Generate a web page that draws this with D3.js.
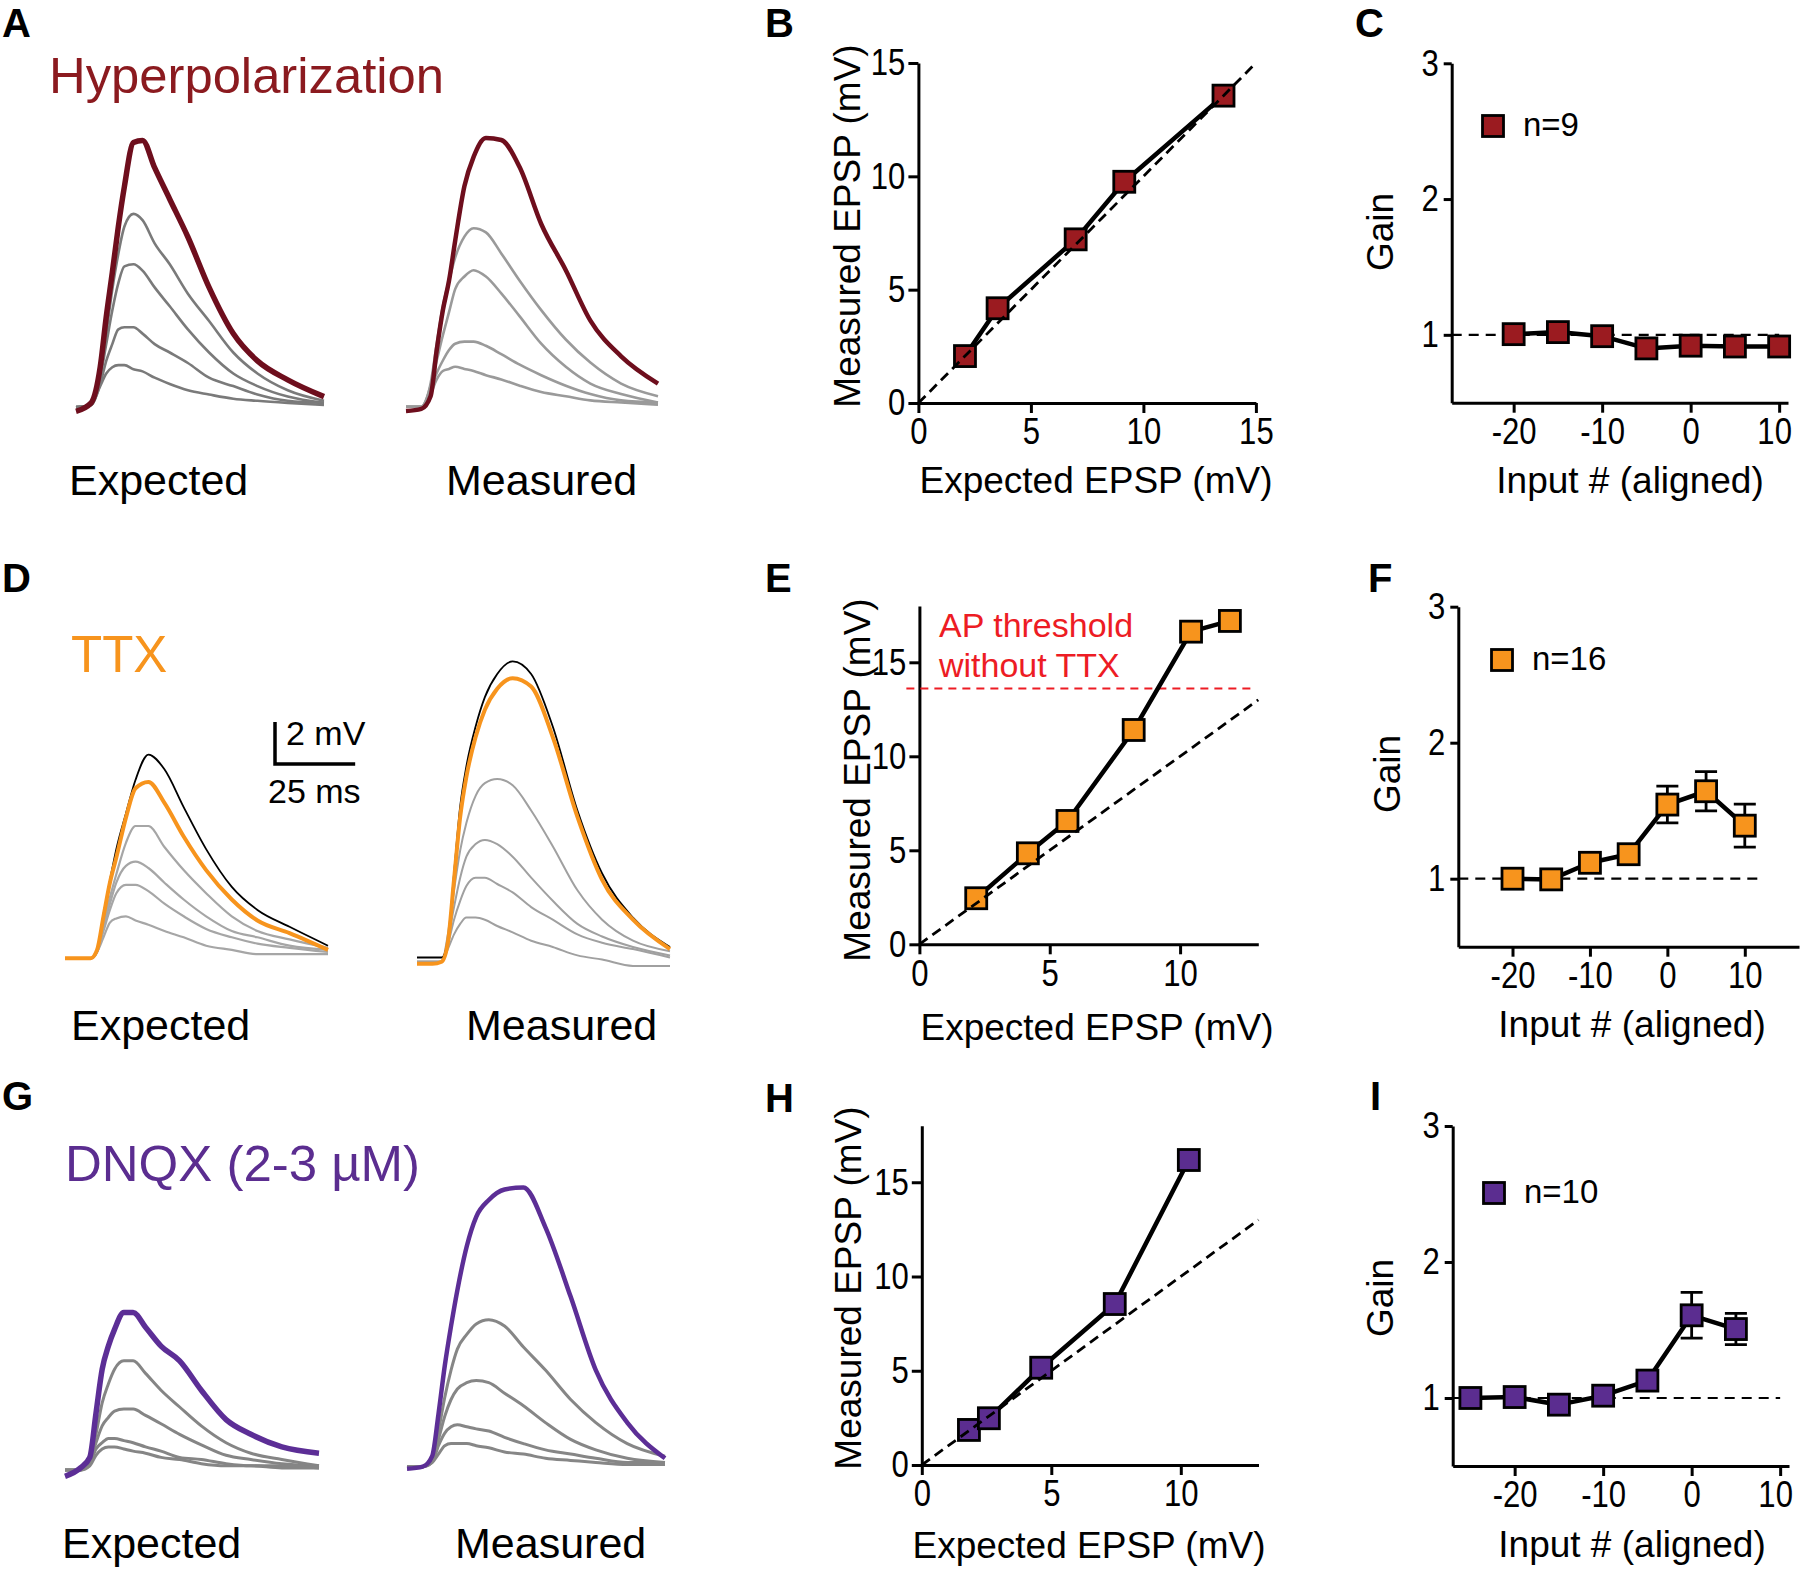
<!DOCTYPE html>
<html>
<head>
<meta charset="utf-8">
<script src="https://cdn.jsdelivr.net/npm/d3@7"></script>
<style>
  body { margin: 0; background: #fff; }
  svg text { font-family: "Liberation Sans", Arial, Helvetica, sans-serif; }
</style>
</head>
<body>
<div id="fig"></div>
<script>
/* DATA */
// trace sample times (ms) shared by all voltage traces
const traceTimes = [0, 5, 8, 10, 12, 14, 16, 19, 22, 26, 31, 37, 44, 52, 60, 70, 82];

// A: hyperpolarization traces (mV)
const hypExpColored = [-0.3, 0.1, 1.8, 4.2, 6.3, 8.5, 10.4, 12.5, 12.6, 11.3, 9.8, 8.0, 5.6, 3.4, 2.1, 1.2, 0.4];
const hypExpGrays = [
  [-0.1, 0, 1.5, 3.4, 5.5, 7.2, 8.5, 9.1, 8.8, 7.7, 6.7, 5.3, 4.0, 2.5, 1.5, 0.7, 0.2],
  [-0.1, 0, 1.3, 2.9, 4.5, 5.8, 6.6, 6.7, 6.4, 5.6, 4.7, 3.6, 2.5, 1.5, 0.9, 0.4, 0.1],
  [-0.1, 0, 1.0, 2.1, 2.9, 3.6, 3.7, 3.7, 3.4, 2.9, 2.5, 2.0, 1.3, 0.9, 0.5, 0.2, 0.1],
  [-0.1, 0, 0.9, 1.5, 1.8, 1.9, 1.9, 1.7, 1.6, 1.3, 1.0, 0.7, 0.5, 0.3, 0.2, 0.1, 0]
];
const hypMeasColored = [-0.2, -0.1, 0.5, 2.7, 4.6, 6.0, 7.9, 10.5, 11.9, 12.8, 12.7, 11.4, 8.7, 6.5, 4.1, 2.4, 1.1];
const hypMeasGrays = [
  [0, 0, 1.1, 3.0, 4.8, 6.0, 7.1, 8.1, 8.5, 8.3, 7.3, 6.0, 4.6, 3.2, 2.1, 1.1, 0.5],
  [0, 0, 1.0, 2.2, 3.4, 4.5, 5.6, 6.2, 6.5, 6.2, 5.4, 4.3, 3.0, 1.9, 1.1, 0.6, 0.2],
  [0, 0, 0.8, 1.6, 2.2, 2.7, 3.0, 3.1, 3.1, 2.9, 2.5, 2.0, 1.5, 1.0, 0.6, 0.3, 0.2],
  [0, 0, 0.6, 1.3, 1.7, 1.8, 1.9, 1.8, 1.7, 1.5, 1.3, 1.0, 0.7, 0.5, 0.3, 0.2, 0.1]
];

// D: TTX traces (mV)
const ttxExpBlack = [0, 0, 0, 0.4, 2.1, 3.7, 5.2, 6.9, 8.5, 9.7, 9.0, 7.2, 5.2, 3.4, 2.3, 1.5, 0.6];
const ttxExpColored = [0, 0, 0, 0.4, 2.0, 3.6, 4.8, 6.7, 8.1, 8.4, 7.4, 5.8, 4.2, 2.8, 1.8, 1.2, 0.4];
const ttxExpGrays = [
  [0, 0, 0, 0.3, 1.7, 2.9, 4.0, 5.5, 6.3, 6.3, 5.3, 4.2, 3.1, 2.0, 1.3, 0.9, 0.5],
  [0, 0, 0, 0.3, 1.5, 2.6, 3.6, 4.4, 4.6, 4.3, 3.6, 2.8, 2.0, 1.3, 1.0, 0.6, 0.4],
  [0, 0, 0, 0.3, 1.3, 2.3, 3.1, 3.5, 3.5, 3.2, 2.6, 2.0, 1.4, 1.0, 0.7, 0.5, 0.3],
  [0, 0, 0, 0.3, 1.0, 1.7, 1.9, 2.0, 1.8, 1.6, 1.3, 1.0, 0.6, 0.4, 0.2, 0.2, 0.2]
];
const ttxMeasBlack = [0.2, 0.2, 0.2, 1.0, 4.2, 7.4, 9.3, 11.2, 12.6, 13.7, 14.3, 13.7, 11.2, 7.2, 4.2, 2.1, 0.7];
const ttxMeasColored = [-0.1, -0.1, 0, 0.9, 3.9, 6.9, 8.8, 10.7, 12.0, 13.0, 13.5, 13.1, 10.7, 6.9, 3.9, 2.0, 0.6];
const ttxMeasGrays = [
  [0, 0, 0, 1.3, 3.4, 5.3, 6.6, 7.9, 8.5, 8.7, 8.4, 7.2, 5.5, 3.4, 2.0, 1.0, 0.5],
  [0, 0, 0, 1.0, 2.6, 4.0, 5.0, 5.6, 5.8, 5.6, 5.0, 4.0, 2.9, 1.8, 1.2, 0.7, 0.3],
  [0, 0, 0, 0.8, 2.0, 2.9, 3.6, 4.0, 4.0, 3.7, 3.3, 2.6, 2.0, 1.3, 0.9, 0.6, 0.2],
  [0, 0, 0, 0.6, 1.3, 1.8, 2.1, 2.1, 2.0, 1.7, 1.4, 1.0, 0.7, 0.3, 0.1, -0.2, -0.2]
];

// G: DNQX traces (mV)
const dnqxExpColored = [-0.3, 0.1, 0.6, 2.7, 4.8, 5.9, 6.7, 7.5, 7.5, 6.8, 5.9, 5.2, 3.8, 2.4, 1.7, 1.1, 0.8];
const dnqxExpGrays = [
  [0, 0, 0.5, 1.7, 3.2, 4.1, 4.8, 5.2, 5.2, 4.6, 3.8, 3.0, 2.1, 1.3, 0.8, 0.5, 0.2],
  [0, 0, 0.4, 1.3, 2.1, 2.5, 2.8, 2.9, 2.9, 2.6, 2.2, 1.7, 1.2, 0.7, 0.5, 0.3, 0.2],
  [0, 0, 0.3, 1.0, 1.3, 1.5, 1.5, 1.4, 1.3, 1.1, 0.9, 0.6, 0.5, 0.3, 0.2, 0.2, 0.1],
  [0, 0, 0.2, 0.7, 1.0, 1.1, 1.1, 1.0, 0.9, 0.8, 0.6, 0.5, 0.3, 0.2, 0.2, 0.1, 0.1]
];
const dnqxMeasColored = [-0.1, 0, 0.5, 2.5, 4.8, 6.7, 8.4, 10.5, 11.9, 12.7, 13.2, 13.3, 11.4, 8.1, 4.6, 2.1, 0.4];
const dnqxMeasGrays = [
  [0, 0, 0.4, 1.7, 3.3, 4.6, 5.6, 6.3, 6.8, 7.0, 6.7, 5.7, 4.6, 3.2, 2.1, 1.1, 0.5],
  [0, 0, 0.3, 1.3, 2.4, 3.2, 3.7, 4.0, 4.1, 4.0, 3.5, 2.9, 2.1, 1.3, 0.8, 0.4, 0.2],
  [0, 0, 0.2, 1.0, 1.6, 1.9, 2.0, 1.9, 1.8, 1.7, 1.4, 1.1, 0.8, 0.6, 0.4, 0.2, 0.2],
  [0, 0, 0.2, 0.6, 1.0, 1.1, 1.1, 1.1, 1.0, 0.9, 0.7, 0.6, 0.4, 0.3, 0.2, 0.1, 0.1]
];

// B, E, H: measured vs expected EPSP (mV)
const hypExpectedEPSP = [2.07, 3.52, 6.99, 9.15, 13.56];
const hypMeasuredEPSP = [2.07, 4.18, 7.22, 9.76, 13.56];
const ttxExpectedEPSP = [2.18, 4.16, 5.68, 8.22, 10.42, 11.91];
const ttxMeasuredEPSP = [2.45, 4.84, 6.56, 11.4, 16.63, 17.2];
const dnqxExpectedEPSP = [1.82, 2.59, 4.61, 7.45, 10.31];
const dnqxMeasuredEPSP = [1.86, 2.48, 5.16, 8.54, 16.18];
const apThreshold = 13.6;

// C, F, I: gain vs aligned input number
const hypInputs = [-20, -15, -10, -5, 0, 5, 10];
const hypGain = [1.005, 1.02, 0.99, 0.90, 0.92, 0.914, 0.914];
const hypGainErr = [0.02, 0.02, 0.02, 0.02, 0.02, 0.02, 0.02];
const ttxInputs = [-20, -15, -10, -5, 0, 5, 10];
const ttxGain = [1.0, 0.995, 1.117, 1.18, 1.545, 1.643, 1.39];
const ttxGainErr = [0.03, 0.03, 0.04, 0.05, 0.135, 0.144, 0.158];
const dnqxInputs = [-25, -20, -15, -10, -5, 0, 5];
const dnqxGain = [1.0, 1.007, 0.951, 1.017, 1.128, 1.608, 1.507];
const dnqxGainErr = [0.02, 0.02, 0.03, 0.03, 0.05, 0.168, 0.115];

/* COLOURS */
const hypColor = "#9b1b20", hypTrace = "#6e0e1d", hypText = "#8b1a1f";
const ttxColor = "#f7941d";
const dnqxColor = "#5b2d90", dnqxTrace = "#5c2e96";

const svg = d3.select("#fig").append("svg")
  .attr("width", 1800)
  .attr("height", 1571)
  .style("background-color", "#ffffff");

function styleAxis(g) {
  g.attr("font-size", null).attr("font-family", null);
  g.selectAll("path.domain").attr("stroke", "#000").attr("stroke-width", 3);
  g.selectAll(".tick line").attr("stroke", "#000").attr("stroke-width", 3);
  g.selectAll(".tick text").style("font-size", "37px").attr("fill", "#000")
    .each(function () {
      // the figure's digits are a little narrower than Liberation Sans
      const w = this.getComputedTextLength();
      d3.select(this).attr("textLength", w * 0.84).attr("lengthAdjust", "spacingAndGlyphs");
    });
}

function label(txt, x, y, opts = {}) {
  const t = svg.append("text")
    .attr("x", x).attr("y", y)
    .style("font-size", (opts.size || 37) + "px")
    .attr("fill", opts.fill || "#000")
    .attr("text-anchor", opts.anchor || "start")
    .text(txt);
  if (opts.bold) t.style("font-weight", "bold");
  if (opts.len) t.attr("textLength", opts.len).attr("lengthAdjust", "spacingAndGlyphs");
  if (opts.rotate) t.attr("x", 0).attr("y", 0)
    .attr("transform", `translate(${x},${y}) rotate(-90)`);
  return t;
}

/* TRACE PANELS */
const mvPx = 21;
function traces(o) {
  const x = d3.scaleLinear().domain([0, 82]).range([o.x0, o.x1]);
  const y = d3.scaleLinear().domain([0, 1]).range([o.base, o.base - mvPx]);
  const line = d3.line()
    .x((d, i) => x(traceTimes[i]))
    .y(d => y(d))
    .curve(d3.curveMonotoneX);
  const g = svg.append("g");
  g.selectAll(".gray").data(o.grays).join("path")
    .attr("d", line).attr("fill", "none")
    .attr("stroke", o.grayColor).attr("stroke-width", o.grayWidth)
    .attr("stroke-linejoin", "round");
  if (o.black) g.append("path").attr("d", line(o.black)).attr("fill", "none")
    .attr("stroke", "#000").attr("stroke-width", 1.8);
  g.append("path").attr("d", line(o.colored)).attr("fill", "none")
    .attr("stroke", o.color).attr("stroke-width", o.width)
    .attr("stroke-linejoin", "round");
}

traces({ x0: 76, x1: 324, base: 405, grays: hypExpGrays, grayColor: "#7a7a7a", grayWidth: 2.6, colored: hypExpColored, color: hypTrace, width: 5.5 });
traces({ x0: 406, x1: 658, base: 406.7, grays: hypMeasGrays, grayColor: "#9a9a9a", grayWidth: 2.6, colored: hypMeasColored, color: hypTrace, width: 4.5 });
traces({ x0: 65, x1: 328, base: 958.3, grays: ttxExpGrays, grayColor: "#a6a6a6", grayWidth: 2.2, black: ttxExpBlack, colored: ttxExpColored, color: ttxColor, width: 4 });
traces({ x0: 417, x1: 670, base: 961.7, grays: ttxMeasGrays, grayColor: "#a0a0a0", grayWidth: 2, black: ttxMeasBlack, colored: ttxMeasColored, color: ttxColor, width: 4 });
traces({ x0: 65, x1: 319, base: 1470, grays: dnqxExpGrays, grayColor: "#858585", grayWidth: 3, colored: dnqxExpColored, color: dnqxTrace, width: 5.5 });
traces({ x0: 407, x1: 665, base: 1466.7, grays: dnqxMeasGrays, grayColor: "#868686", grayWidth: 3, colored: dnqxMeasColored, color: dnqxTrace, width: 4.5 });

// scale bar in D (2 mV, 25 ms)
svg.append("path")
  .attr("d", `M275,${764 - 2 * mvPx}V764H${275 + 25 * (263 / 82)}`)
  .attr("fill", "none").attr("stroke", "#000").attr("stroke-width", 3.5);
label("2 mV", 286, 745, { size: 34 });
label("25 ms", 268, 803, { size: 34 });

label("Hyperpolarization", 49, 93, { size: 50, fill: hypText, len: 395 });
label("TTX", 71, 672, { size: 51, fill: ttxColor });
label("DNQX (2-3 µM)", 65, 1181, { size: 50, fill: dnqxColor, len: 355 });
label("Expected", 69, 495, { size: 43 });
label("Measured", 446, 495, { size: 43 });
label("Expected", 71, 1040, { size: 43 });
label("Measured", 466, 1040, { size: 43 });
label("Expected", 62, 1558, { size: 43 });
label("Measured", 455, 1558, { size: 43 });

/* EPSP PANELS */
function square(g, cx, cy, size, fill) {
  g.append("rect")
    .attr("x", cx - size / 2).attr("y", cy - size / 2)
    .attr("width", size).attr("height", size)
    .attr("fill", fill).attr("stroke", "#000").attr("stroke-width", 2.8);
}

function epspPanel(o) {
  const x = d3.scaleLinear().domain([0, o.xMax]).range([o.left, o.right]);
  const y = d3.scaleLinear().domain([0, o.yMax]).range([o.bottom, o.top]);
  const g = svg.append("g");
  g.append("g").attr("transform", `translate(0,${o.bottom})`)
    .call(d3.axisBottom(x).tickValues(o.xTicks).tickFormat(d => String(d)).tickSize(10).tickPadding(5).tickSizeOuter(0))
    .call(styleAxis);
  g.append("g").attr("transform", `translate(${o.left},0)`)
    .call(d3.axisLeft(y).tickValues([0, 5, 10, 15]).tickFormat(d => String(d)).tickSize(10).tickPadding(3).tickSizeOuter(0))
    .call(styleAxis);

  if (o.threshold !== undefined) {
    g.append("line")
      .attr("x1", x(-0.5)).attr("x2", x(12.77))
      .attr("y1", y(o.threshold)).attr("y2", y(o.threshold))
      .attr("stroke", "#ed1c24").attr("stroke-width", 2).attr("stroke-dasharray", "8,6");
  }
  const pts = o.xs.map((v, i) => [v, o.ys[i]]);
  g.append("path")
    .attr("d", d3.line().x(d => x(d[0])).y(d => y(d[1]))(pts))
    .attr("fill", "none").attr("stroke", "#000").attr("stroke-width", 4.5)
    .attr("stroke-linejoin", "round");
  pts.forEach(d => square(g, x(d[0]), y(d[1]), 21, o.color));
  g.append("line")
    .attr("x1", x(0)).attr("y1", y(0))
    .attr("x2", x(o.diagMax)).attr("y2", y(o.diagMax))
    .attr("stroke", "#000").attr("stroke-width", 2.8).attr("stroke-dasharray", "10,6");
}

epspPanel({ left: 918.4, right: 1255.9, bottom: 403, top: 63, xMax: 15, yMax: 15, xTicks: [0, 5, 10, 15],
  xs: hypExpectedEPSP, ys: hypMeasuredEPSP, color: hypColor, diagMax: 15 });
epspPanel({ left: 919.4, right: 1258.3, bottom: 944.3, top: 605.9, xMax: 13, yMax: 18, xTicks: [0, 5, 10],
  xs: ttxExpectedEPSP, ys: ttxMeasuredEPSP, color: ttxColor, diagMax: 13, threshold: apThreshold });
epspPanel({ left: 921.8, right: 1258.5, bottom: 1465, top: 1125.7, xMax: 13, yMax: 18, xTicks: [0, 5, 10],
  xs: dnqxExpectedEPSP, ys: dnqxMeasuredEPSP, color: dnqxColor, diagMax: 13 });

label("AP threshold", 939, 637, { size: 34, fill: "#ed1c24" });
label("without TTX", 939, 677, { size: 34, fill: "#ed1c24" });

label("Expected EPSP (mV)", 1096, 493, { anchor: "middle" });
label("Expected EPSP (mV)", 1097, 1040, { anchor: "middle" });
label("Expected EPSP (mV)", 1089, 1558, { anchor: "middle" });
label("Measured EPSP (mV)", 860, 226, { anchor: "middle", rotate: true });
label("Measured EPSP (mV)", 870, 780, { anchor: "middle", rotate: true });
label("Measured EPSP (mV)", 861, 1288, { anchor: "middle", rotate: true });

/* GAIN PANELS */
function gainPanel(o) {
  const x = d3.scaleLinear().domain([-27, o.xMax]).range([o.left, o.right]);
  const y = d3.scaleLinear().domain([0.5, 3]).range([o.bottom, o.top]);
  const g = svg.append("g");
  const xAxis = g.append("g").attr("transform", `translate(0,${o.bottom})`)
    .call(d3.axisBottom(x).tickValues([-20, -10, 0, 10]).tickFormat(d => String(d)).tickSize(10).tickPadding(5).tickSizeOuter(0))
    .call(styleAxis);
  // keep the last label inside the page, as in the figure
  if (o.xMax < 12) xAxis.selectAll(".tick text").filter(d => d === 10).attr("dx", -5);
  g.append("g").attr("transform", `translate(${o.left},0)`)
    .call(d3.axisLeft(y).tickValues([1, 2, 3]).tickFormat(d => String(d)).tickSize(8).tickPadding(5).tickSizeOuter(0))
    .call(styleAxis);

  g.append("line")
    .attr("x1", o.left).attr("x2", x(o.dashEnd))
    .attr("y1", y(1)).attr("y2", y(1))
    .attr("stroke", "#000").attr("stroke-width", 2.2).attr("stroke-dasharray", "10,7");

  const pts = o.xs.map((v, i) => ({ x: v, y: o.ys[i], e: o.errs[i] }));
  g.selectAll(".err").data(pts).join("path")
    .attr("d", d => `M${x(d.x) - 11},${y(d.y + d.e)}H${x(d.x) + 11}M${x(d.x)},${y(d.y + d.e)}V${y(d.y - d.e)}M${x(d.x) - 11},${y(d.y - d.e)}H${x(d.x) + 11}`)
    .attr("fill", "none").attr("stroke", "#000").attr("stroke-width", 2.8);
  g.append("path")
    .attr("d", d3.line().x(d => x(d.x)).y(d => y(d.y))(pts))
    .attr("fill", "none").attr("stroke", "#000").attr("stroke-width", 4.5)
    .attr("stroke-linejoin", "round");
  pts.forEach(d => square(g, x(d.x), y(d.y), 21, o.color));

  square(g, o.legX, o.legY, 21, o.color);
  g.append("text").attr("x", o.legX + 30).attr("y", o.legY + 10)
    .style("font-size", "33px").text(o.legend);
}

gainPanel({ left: 1451.7, right: 1788, bottom: 402.7, top: 63.3, xMax: 11, dashEnd: 10,
  xs: hypInputs, ys: hypGain, errs: hypGainErr, color: hypColor, legX: 1493, legY: 126, legend: "n=9" });
gainPanel({ left: 1458.3, right: 1799, bottom: 946.7, top: 606.7, xMax: 17, dashEnd: 12.4,
  xs: ttxInputs, ys: ttxGain, errs: ttxGainErr, color: ttxColor, legX: 1502, legY: 660, legend: "n=16" });
gainPanel({ left: 1452.7, right: 1789, bottom: 1466, top: 1126, xMax: 11, dashEnd: 10,
  xs: dnqxInputs, ys: dnqxGain, errs: dnqxGainErr, color: dnqxColor, legX: 1494, legY: 1193, legend: "n=10" });

label("Input # (aligned)", 1630, 493, { anchor: "middle" });
label("Input # (aligned)", 1632, 1037, { anchor: "middle" });
label("Input # (aligned)", 1632, 1557, { anchor: "middle" });
label("Gain", 1393, 232, { anchor: "middle", rotate: true });
label("Gain", 1400, 774, { anchor: "middle", rotate: true });
label("Gain", 1393, 1298, { anchor: "middle", rotate: true });

/* PANEL LETTERS */
[["A", 2, 37], ["B", 765, 37], ["C", 1355, 37],
 ["D", 2, 592], ["E", 765, 592], ["F", 1368, 592],
 ["G", 2, 1110], ["H", 765, 1112], ["I", 1370, 1110]]
  .forEach(([t, x, y]) => label(t, x, y, { size: 40, bold: true }));
</script>
</body>
</html>
